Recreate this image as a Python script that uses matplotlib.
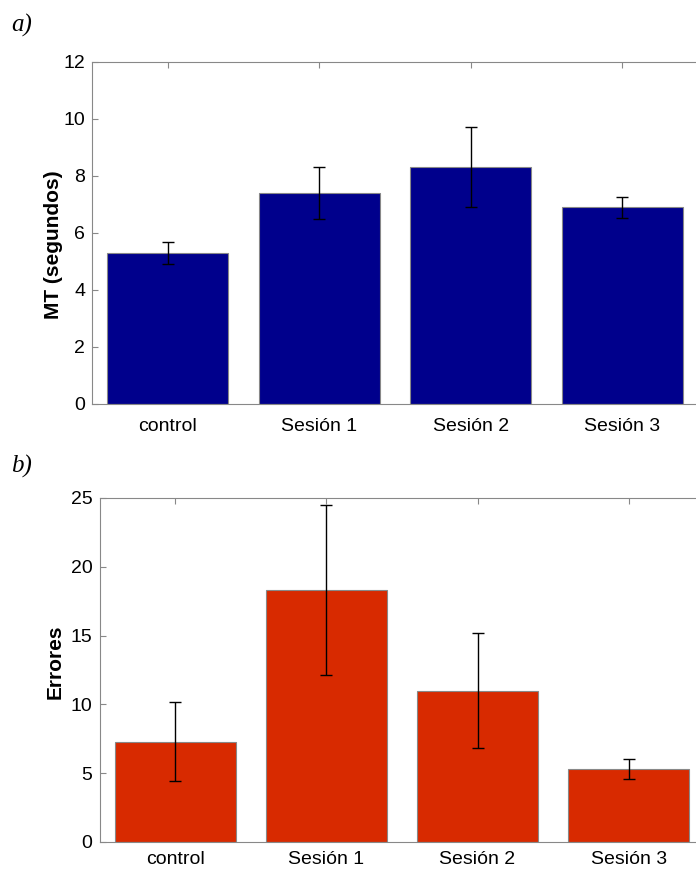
import numpy as np
import matplotlib.pyplot as plt

plt.rcParams['font.family'] = ['Liberation Sans', 'DejaVu Sans']

categorias = ['control', 'Sesión 1', 'Sesión 2', 'Sesión 3']
mt_medias = [5.3, 7.4, 8.3, 6.9]
mt_error = [0.38, 0.9, 1.4, 0.36]
err_medias = [7.3, 18.3, 11.0, 5.3]
err_error = [2.9, 6.2, 4.2, 0.7]

fig = plt.figure(figsize=(6.96, 8.71), dpi=100)
ax1 = fig.add_axes([0.1322, 0.5362, 0.8707, 0.3927])
ax2 = fig.add_axes([0.143, 0.0333, 0.869, 0.395])

x = np.arange(1, len(categorias) + 1)


def panel(ax, medias, errores, color, ymax, yticks, ylabel, label_xy, xpad):
    ax.bar(x, medias, width=0.8, color=color, edgecolor='#888888', linewidth=0.8, zorder=2)
    ax.errorbar(x, medias, yerr=errores, fmt='none', ecolor='black', elinewidth=1,
                capsize=4, capthick=1, zorder=3)
    ax.set_xlim(0.5, 4.5)
    ax.set_ylim(0, ymax)
    ax.set_yticks(yticks)
    ax.set_xticks(x)
    ax.set_xticklabels(categorias)
    ax.tick_params(direction='in', top=True, right=False, length=4, color='#888888',
                   labelsize=14, pad=5)
    ax.tick_params(axis='x', pad=xpad)
    for s in ['left', 'bottom', 'top']:
        ax.spines[s].set_color('#888888')
    # el borde derecho queda fuera de la imagen
    ax.spines['right'].set_visible(False)
    ax.set_ylabel(ylabel, fontsize=15, fontweight='bold', va='center')
    ax.yaxis.set_label_coords(*label_xy)


panel(ax1, mt_medias, mt_error, '#00008c', 12, [0, 2, 4, 6, 8, 10, 12], 'MT (segundos)', (-0.064, 0.465), 10)
panel(ax2, err_medias, err_error, '#d82a00', 25, [0, 5, 10, 15, 20, 25], 'Errores', (-0.074, 0.523), 6.5)

fig.text(0.016, 0.971, 'a)', fontsize=18, fontstyle='italic', family='Liberation Serif', va='center')
fig.text(0.016, 0.465, 'b)', fontsize=18, fontstyle='italic', family='Liberation Serif', va='center')

plt.savefig('out.png', dpi=100)
